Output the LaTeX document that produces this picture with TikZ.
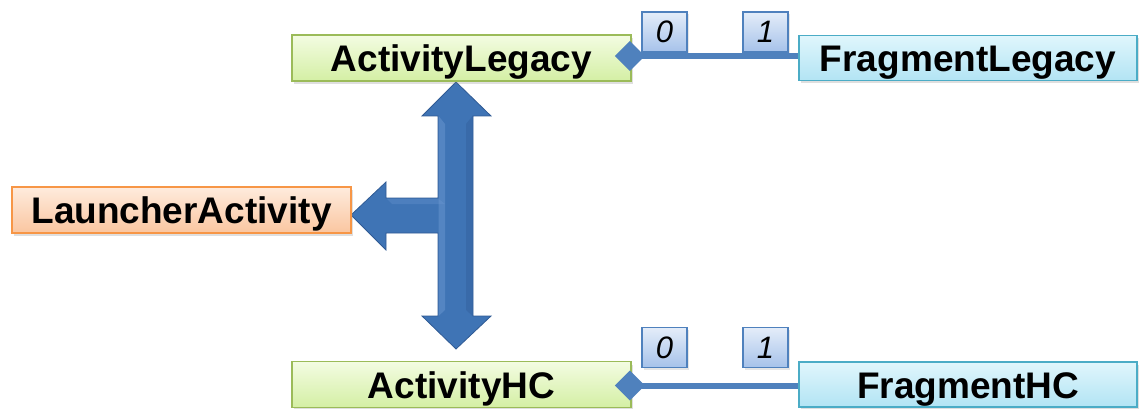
\documentclass[tikz,border=0pt]{standalone}
\usepackage{fontspec}
\setmainfont{Liberation Sans}
\usetikzlibrary{arrows.meta,shadows}
\definecolor{gTop}{HTML}{F3FCE2}
\definecolor{gBot}{HTML}{D4EFA4}
\definecolor{gBrd}{HTML}{9BBB59}
\definecolor{oTop}{HTML}{FEEBDD}
\definecolor{oBot}{HTML}{FAC6A0}
\definecolor{oBrd}{HTML}{F79646}
\definecolor{cTop}{HTML}{E0F6FC}
\definecolor{cBot}{HTML}{B2E4F4}
\definecolor{cBrd}{HTML}{4BACC6}
\definecolor{lTop}{HTML}{E4EDF9}
\definecolor{lBot}{HTML}{A6C2EA}
\definecolor{lBrd}{HTML}{4F81BD}
\definecolor{arBlue}{HTML}{3F74B5}
\definecolor{arDark}{HTML}{2F5A94}
\definecolor{arLight}{HTML}{6F9BD3}
\tikzset{
  bigbox/.style={draw, line width=1.5pt, inner sep=0pt, text height=27pt, text depth=0pt,
    font=\fontsize{37}{40}\selectfont\bfseries,
    drop shadow={opacity=0.25, shadow xshift=2pt, shadow yshift=-3pt}},
  gbox/.style={bigbox, draw=gBrd, top color=gTop, bottom color=gBot, minimum width=339pt, minimum height=46pt},
  obox/.style={bigbox, draw=oBrd, top color=oTop, bottom color=oBot, minimum width=339pt, minimum height=46pt},
  cbox/.style={bigbox, draw=cBrd, top color=cTop, bottom color=cBot, minimum width=338pt, minimum height=45pt},
  mult/.style={draw=lBrd, line width=1.2pt, top color=lTop, bottom color=lBot, inner sep=0pt,
    minimum width=45pt, minimum height=40pt, text height=22pt, text depth=0pt,
    font=\fontsize{31}{34}\selectfont\itshape,
    drop shadow={opacity=0.2, shadow xshift=1.5pt, shadow yshift=-2pt}},
  agg/.style={draw=lBrd, line width=6pt, {Diamond[length=30pt,width=30pt]}-},
}
\begin{document}
\begin{tikzpicture}[x=1pt,y=-1pt]
\useasboundingbox (0,0) rectangle (1139,409);
% block arrow
\fill[arBlue, draw=arDark, line width=0.8pt, line join=miter]
  (456,82) -- (491,116) -- (473,116) -- (473,316) -- (491,316) -- (456,349)
  -- (422,316) -- (438,316) -- (438,233) -- (386,233) -- (386,250) -- (351,215)
  -- (386,182) -- (386,198) -- (438,198) -- (438,116) -- (422,116) -- cycle;
\fill[arLight, opacity=0.45] (438.5,116) -- (445,124) -- (445,310) -- (438.5,316) -- cycle;
\fill[arLight, opacity=0.3] (386.5,198.5) -- (438,198.5) -- (445,204) -- (392,204) -- cycle;
\fill[arDark, opacity=0.35] (466,124) -- (472.5,116) -- (472.5,316) -- (466,310) -- cycle;
% boxes
\node[gbox] (actL) at (461.5,58) {ActivityLegacy};
\node[gbox] (actH) at (461.5,384.5) {ActivityHC};
\node[obox] (launch) at (181.5,210) {LauncherActivity};
\node[cbox] (fragL) at (968,58) {FragmentLegacy};
\node[cbox] (fragH) at (968,384.5) {FragmentHC};
% multiplicities
\node[mult] (zL) at (664.5,32) {0};
\node[mult] (oL) at (765.5,32) {1};
\node[mult] (zH) at (664.5,347.5) {0};
\node[mult] (oH) at (765.5,347.5) {1};
% aggregation connectors
\coordinate (dL) at ([xshift=-17pt,yshift=2pt]actL.east);
\coordinate (dH) at ([xshift=-17pt,yshift=-1pt]actH.east);
\draw[agg] (dL) -- (dL -| fragL.west);
\draw[agg] (dH) -- (dH -| fragH.west);
\end{tikzpicture}
\end{document}
